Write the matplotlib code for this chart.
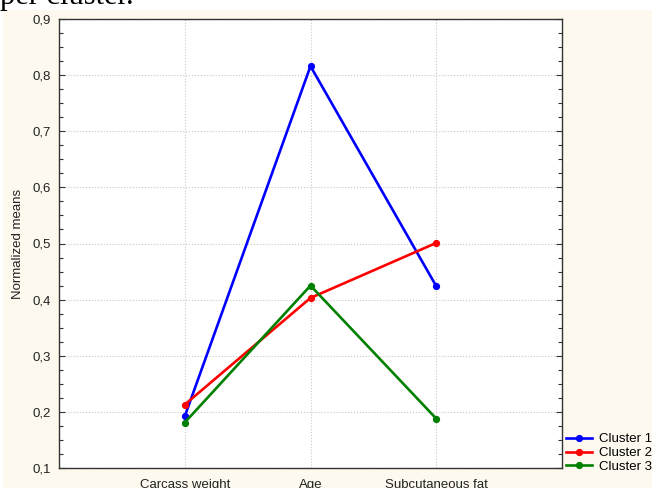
import matplotlib

matplotlib.use("Agg")

import matplotlib.pyplot as plt
from matplotlib.patches import Rectangle
from matplotlib.ticker import FixedLocator, MultipleLocator

CATEGORIES = ["Carcass weight", "Age", "Subcutaneous fat"]
SERIES_NAMES = ["Cluster 1", "Cluster 2", "Cluster 3"]
CLUSTER_1 = [0.192, 0.816, 0.424]
CLUSTER_2 = [0.213, 0.403, 0.501]
CLUSTER_3 = [0.181, 0.425, 0.188]
SERIES_COLORS = ["#0000ff", "#ff0000", "#008000"]
Y_TICKS = [0.1, 0.2, 0.3, 0.4, 0.5, 0.6, 0.7, 0.8, 0.9]
Y_TICK_LABELS = ["0,1", "0,2", "0,3", "0,4", "0,5", "0,6", "0,7", "0,8", "0,9"]

CREAM = "#fdf9ee"
FONT = "Liberation Sans"
FS = 9.5

fig = plt.figure(figsize=(6.52, 4.88), dpi=100)
fig.patch.set_facecolor("white")
fig.patches.append(Rectangle((3 / 652, 0), 1, 1 - 10 / 488, transform=fig.transFigure,
                             facecolor=CREAM, edgecolor="none", zorder=-10))
# caption text from the page above, mostly cut off by the top edge
fig.text(0, 1 - 4 / 488, "per cluster.", family="Liberation Serif", fontsize=22,
         va="baseline", ha="left", color="black")

ax = fig.add_axes([59 / 652, 1 - 468 / 488, (562 - 59) / 652, (468 - 19) / 488])
ax.set_facecolor("white")

x = list(range(len(CATEGORIES)))
for name, values, color in zip(SERIES_NAMES, [CLUSTER_1, CLUSTER_2, CLUSTER_3], SERIES_COLORS):
    ax.plot(x, values, color=color, lw=1.9, marker="o", markersize=4.2, label=name,
            clip_on=False, zorder=3)

ax.set_xlim(-1, 3)
ax.set_ylim(0.1, 0.9)
ax.xaxis.set_major_locator(FixedLocator(x))
ax.set_xticklabels(CATEGORIES, family=FONT, fontsize=FS)
ax.set_yticks(Y_TICKS)
ax.set_yticklabels(Y_TICK_LABELS, family=FONT, fontsize=FS)
ax.yaxis.set_minor_locator(MultipleLocator(0.025))
ax.tick_params(axis="y", which="both", direction="in", left=True, right=True, colors="#333333",
               labelcolor="#222222")
ax.tick_params(axis="y", which="major", length=4, width=0.8, pad=6)
ax.tick_params(axis="y", which="minor", length=3, width=0.8)
ax.tick_params(axis="x", length=0, pad=8, labelcolor="#222222")
ax.grid(True, which="major", color="#c8c8c8", linestyle=":", linewidth=0.8, zorder=0)
for side in ["left", "right", "top", "bottom"]:
    ax.spines[side].set_color("#333333")
    ax.spines[side].set_linewidth(1.0)
ax.set_ylabel("Normalized means", family=FONT, fontsize=FS, color="#222222", labelpad=6)

fig.legend(loc="lower left", bbox_to_anchor=(566 / 652, 15 / 488), frameon=False,
           prop={"family": FONT, "size": FS}, handlelength=2.0, handletextpad=0.5,
           labelspacing=0.12, borderaxespad=0, borderpad=0)

fig.savefig("out.png", dpi=100, facecolor=fig.get_facecolor())
